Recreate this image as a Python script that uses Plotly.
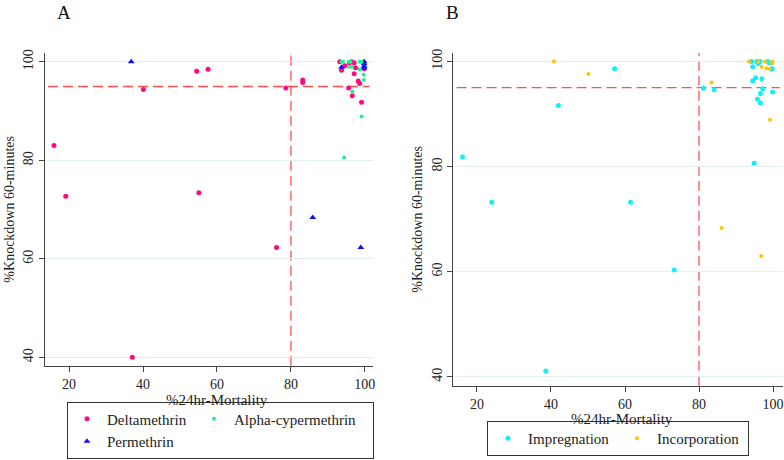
import plotly.graph_objects as go

# ---------------- Panel A data ----------------
delta_x = [15.9, 19.1, 37.1, 40.1, 54.5, 55.1, 57.6, 76.1, 78.6, 83.2, 83.2,
           93.2, 93.7, 94.6, 95.8, 96.4, 97.1, 97.5, 97.1, 98.2, 98.6, 95.6, 96.6, 99.1, 99.8]
delta_y = [83.0, 72.7, 40.0, 94.4, 98.1, 73.4, 98.5, 62.3, 94.7, 96.3, 95.8,
           100.0, 98.3, 99.2, 99.8, 100.0, 99.8, 98.8, 97.6, 96.1, 95.6, 94.7, 93.1, 91.8, 98.6]

alpha_x = [93.7, 94.1, 95.7, 96.1, 95.7, 96.5, 98.6, 99.1, 98.6, 99.7, 99.7, 96.6, 99.1, 94.4]
alpha_y = [100.0, 100.0, 100.0, 100.0, 99.0, 99.0, 100.0, 100.0, 98.5, 97.4, 96.3, 94.0, 88.9, 80.6]

perm_x = [36.8, 93.7, 99.8, 99.8, 99.8, 99.8, 85.9, 98.9]
perm_y = [100.0, 98.9, 100.0, 99.6, 99.1, 98.7, 68.4, 62.3]

# ---------------- Panel B data ----------------
impreg_x = [16.1, 24.0, 42.0, 57.2, 61.5, 73.3, 38.6, 81.2, 84.1,
            94.2, 94.5, 94.5, 95.3, 94.9, 95.8, 96.6, 97.2, 96.6, 97.0, 99.9,
            99.8, 99.6, 95.6, 96.5, 96.0, 98.6, 99.0]
impreg_y = [81.8, 73.2, 91.6, 98.6, 73.2, 60.3, 41.1, 94.9, 94.6,
            100.0, 99.0, 96.3, 96.9, 80.6, 92.8, 92.1, 94.8, 93.9, 96.7, 94.2,
            98.6, 98.5, 100.0, 100.0, 99.6, 100.0, 99.7]

incorp_x = [40.8, 50.1, 83.4, 86.1, 96.8, 99.2, 93.5, 96.0, 96.9, 98.2, 99.0, 99.8, 99.8, 97.8]
incorp_y = [100.0, 97.6, 96.0, 68.3, 63.0, 88.9, 100.0, 99.9, 99.0, 98.7, 98.6, 99.6, 100.0, 100.0]

x_ticks = [20, 40, 60, 80, 100]
y_ticks = [40, 60, 80, 100]
mort_cut = 80
kd_cut = 95
x_title = "%24hr-Mortality"
y_title = "%Knockdown 60-minutes"

SERIF = "Liberation Serif"
W, H = 784, 460

fig = go.Figure()

fig.add_trace(go.Scatter(x=delta_x, y=delta_y, mode="markers", name="Deltamethrin",
                         marker=dict(symbol="circle", size=5, color="#ff0a7f"),
                         xaxis="x", yaxis="y", legend="legend", legendgroup="g1",
                         legendwidth=82))
fig.add_trace(go.Scatter(x=perm_x, y=perm_y, mode="markers", name="Permethrin",
                         marker=dict(symbol="triangle-up", size=6, color="#1010ff"),
                         xaxis="x", yaxis="y", legend="legend", legendgroup="g1",
                         legendwidth=82))
fig.add_trace(go.Scatter(x=alpha_x, y=alpha_y, mode="markers", name="Alpha-cypermethrin",
                         marker=dict(symbol="circle", size=4, color="#20f090"),
                         xaxis="x", yaxis="y", legend="legend", legendgroup="g2",
                         legendwidth=134))

fig.add_trace(go.Scatter(x=impreg_x, y=impreg_y, mode="markers", name="Impregnation",
                         marker=dict(symbol="circle", size=5, color="#10f0f8"),
                         xaxis="x2", yaxis="y2", legend="legend2", legendwidth=84))
fig.add_trace(go.Scatter(x=incorp_x, y=incorp_y, mode="markers", name="Incorporation",
                         marker=dict(symbol="circle", size=4, color="#ffc400"),
                         xaxis="x2", yaxis="y2", legend="legend2", legendwidth=86))

axis_common = dict(showline=True, linecolor="#444", linewidth=1.3, ticks="outside",
                   ticklen=5, tickcolor="#444", zeroline=False, mirror=False,
                   automargin=False,
                   tickfont=dict(family=SERIF, size=14, color="#222"))

def xd(px0, px1):
    return [px0 / W, px1 / W]

def yd(py_bottom, py_top):
    return [1 - py_bottom / H, 1 - py_top / H]

fig.update_layout(
    width=W, height=H, margin=dict(l=0, r=0, t=0, b=0, autoexpand=False),
    paper_bgcolor="white", plot_bgcolor="white",
    font=dict(family=SERIF, color="#222"),
    xaxis=dict(domain=xd(44.7, 373), range=[13.4, 102.2], anchor="y",
               tickvals=x_ticks, showgrid=False, **axis_common),
    yaxis=dict(domain=yd(365.7, 53), range=[38.3, 101.8], anchor="x",
               tickvals=y_ticks, tickangle=-90, showgrid=True, gridcolor="#e2eef0",
               title=dict(text=y_title, font=dict(family=SERIF, size=14), standoff=3),
               **axis_common),
    xaxis2=dict(domain=xd(453.3, 783), range=[13.6, 102.7], anchor="y2",
                tickvals=x_ticks, showgrid=False, **axis_common),
    yaxis2=dict(domain=yd(385.7, 53), range=[38.3, 101.6], anchor="x2",
                tickvals=y_ticks, tickangle=-90, showgrid=True, gridcolor="#e2eef0",
                title=dict(text=y_title, font=dict(family=SERIF, size=14), standoff=3),
                **axis_common),
    legend=dict(orientation="h", traceorder="grouped", x=67 / W, y=1.5 / H,
                xanchor="left", yanchor="bottom", bordercolor="#333", borderwidth=1,
                font=dict(family=SERIF, size=15, color="#222"),
                tracegroupgap=0, itemwidth=30),
    legend2=dict(orientation="h", x=487 / W, y=1 - 456 / H,
                 xanchor="left", yanchor="bottom", bordercolor="#333", borderwidth=1,
                 font=dict(family=SERIF, size=15, color="#222"), itemwidth=30),
    showlegend=True,
)

# reference lines
line_style = dict(color="rgba(255,50,50,0.85)", width=1.3, dash="10px,5px")
for xa, ya in (("x", "y"), ("x2", "y2")):
    fig.add_shape(type="line", xref=xa, yref=f"{ya} domain", x0=mort_cut, x1=mort_cut,
                  y0=0, y1=1, line=line_style, layer="below")
    fig.add_shape(type="line", xref=f"{xa} domain", yref=ya, x0=0.01, x1=0.99,
                  y0=kd_cut, y1=kd_cut, line=line_style, layer="below")

# x-axis titles
fig.add_annotation(text=x_title, x=216.7 / W, y=1 - 400 / H, xref="paper", yref="paper",
                   showarrow=False, font=dict(family=SERIF, size=15, color="#222"),
                   xanchor="center", yanchor="middle")
fig.add_annotation(text=x_title, x=621.7 / W, y=1 - 419 / H, xref="paper", yref="paper",
                   showarrow=False, font=dict(family=SERIF, size=15, color="#222"),
                   xanchor="center", yanchor="middle")

# panel letters
fig.add_annotation(text="A", x=64 / W, y=1, xref="paper", yref="paper",
                   showarrow=False, font=dict(family=SERIF, size=19, color="#111"),
                   xanchor="center", yanchor="top")
fig.add_annotation(text="B", x=452 / W, y=1, xref="paper", yref="paper",
                   showarrow=False, font=dict(family=SERIF, size=19, color="#111"),
                   xanchor="center", yanchor="top")

fig.write_html("out.html", config={"displayModeBar": False},
               post_script="document.body.style.margin='0';document.body.style.overflow='hidden';")
